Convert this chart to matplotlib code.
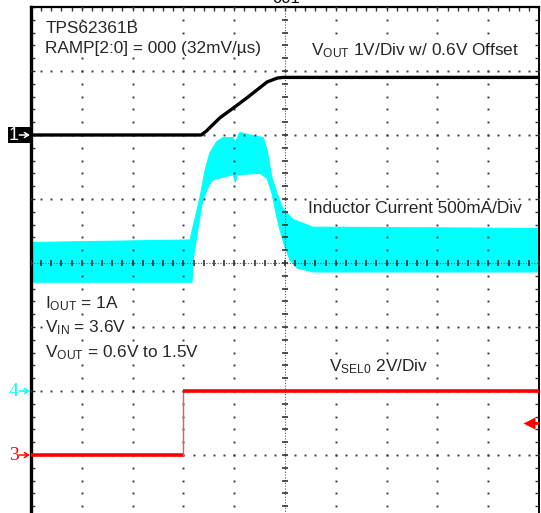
import matplotlib
matplotlib.use("Agg")
import matplotlib.pyplot as plt
from matplotlib.patches import Rectangle
import numpy as np

plt.rcParams["font.family"] = ["Liberation Sans", "DejaVu Sans"]
plt.rcParams["mathtext.fontset"] = "custom"
plt.rcParams["mathtext.rm"] = "Liberation Sans"
plt.rcParams["mathtext.it"] = "Liberation Sans"

# scope screen: 10 x 8 divisions, time axis in divisions
N_XDIV, N_YDIV = 10, 8

# channel settings: reference level (div from bottom) and scale per div
CH1_REF, CH1_SCALE, CH1_OFFSET = 6.0, 1.0, 0.6   # VOUT, V/div, 0.6 V offset
CH4_REF, CH4_SCALE = 2.0, 0.5                    # inductor current, A/div
CH3_REF, CH3_SCALE = 1.0, 2.0                    # VSEL0, V/div

# Ch1 - VOUT (V)
vout_t = [0.0, 3.35, 3.45, 3.72, 3.98, 4.25, 4.65, 4.85, 4.96, 10.0]
vout_v = [0.6, 0.6, 0.66, 0.87, 1.02, 1.18, 1.43, 1.49, 1.5, 1.5]

# Ch4 - inductor current envelope (A)
il_up_t = [0.0, 3.13, 3.33, 3.43, 3.52, 3.66, 3.78, 3.98, 4.02, 4.11, 4.31,
           4.57, 4.65, 4.74, 4.84, 4.94, 5.04, 5.16, 5.55, 10.0]
il_up = [1.16, 1.18, 1.52, 1.73, 1.86, 1.95, 1.98, 1.98, 1.94, 2.02, 2.0,
         1.98, 1.88, 1.67, 1.55, 1.44, 1.39, 1.34, 1.28, 1.27]
il_lo_t = [0.0, 3.17, 3.19, 3.27, 3.37, 3.48, 3.58, 3.78, 3.98, 4.02, 4.06,
           4.51, 4.65, 4.74, 4.84, 4.90, 5.0, 5.10, 5.24, 5.55, 10.0]
il_lo = [0.85, 0.85, 1.02, 1.23, 1.47, 1.59, 1.65, 1.67, 1.69, 1.63, 1.69,
         1.70, 1.66, 1.55, 1.36, 1.26, 1.125, 1.02, 0.96, 0.93, 0.93]

# Ch3 - VSEL0 (V)
vsel_t = [0.0, 2.99, 2.99, 10.0]
vsel_v = [0.0, 0.0, 2.0, 2.0]
trig_level = 1.0  # V

TEXT = "#262626"
CYAN = "#00ffff"
RED = "#ff0000"


def to_div(vals, ref, scale, offset=0.0):
    return ref + (np.asarray(vals) - offset) / scale


fig = plt.figure(figsize=(5.41, 5.13), dpi=100)
ax = fig.add_axes([31 / 541, 1 - 519 / 513, 508 / 541, 512 / 513])
ax.set_xlim(0, N_XDIV)
ax.set_ylim(0, N_YDIV)

# inductor current band
ax.fill(np.r_[il_up_t, il_lo_t[::-1]],
        np.r_[to_div(il_up, CH4_REF, CH4_SCALE), to_div(il_lo[::-1], CH4_REF, CH4_SCALE)],
        color=CYAN, lw=0.8, ec=CYAN, zorder=2)

# graticule
minor = np.arange(0, 5 * N_XDIV + 1) / 5
minor_y = np.arange(0, 5 * N_YDIV + 1) / 5
for i in range(1, N_XDIV):
    if i == 5:
        continue
    ax.plot(np.full_like(minor_y, i), minor_y, ls="none", marker="s", ms=1.4,
            mec="none", color="#3a3a3a", zorder=3)
for j in range(1, N_YDIV):
    if j == 4:
        continue
    ax.plot(minor, np.full_like(minor, j), ls="none", marker="s", ms=1.4,
            mec="none", color="#3a3a3a", zorder=3)
# center cross
ax.plot([5, 5], [0, N_YDIV], ls=(0, (1, 1.5)), lw=0.8, color="#555555", zorder=3)
ax.plot([0, N_XDIV], [4, 4], ls=(0, (1, 1.5)), lw=0.8, color="#555555", zorder=3)
ax.plot(np.full_like(minor_y, 5), minor_y, ls="none", marker="_", ms=5, mew=1.2,
        color="#333333", zorder=3)
ax.plot(minor, np.full_like(minor, 4), ls="none", marker="|", ms=5, mew=1.2,
        color="#333333", zorder=3)

# VOUT
ax.plot(vout_t, to_div(vout_v, CH1_REF, CH1_SCALE, CH1_OFFSET), color="black",
        lw=2.4, solid_capstyle="butt", zorder=5)

# VSEL0
vsel_div = to_div(vsel_v, CH3_REF, CH3_SCALE)
ax.plot(vsel_t[1:3], vsel_div[1:3], color="#ff5050", lw=1.0, zorder=4)
ax.plot(vsel_t[:2], vsel_div[:2], color=RED, lw=2.6, solid_capstyle="butt", zorder=5)
ax.plot(vsel_t[2:], vsel_div[2:], color=RED, lw=2.6, solid_capstyle="butt", zorder=5)

# trigger level marker
trig_y = to_div(trig_level, CH3_REF, CH3_SCALE)
ax.plot([9.8, 10], [trig_y, trig_y], color=RED, lw=2.0, zorder=5)
ax.plot([9.8], [trig_y], marker="<", ms=8, color=RED, mec="none", zorder=5)

# frame
for side in ("left", "top", "right", "bottom"):
    ax.spines[side].set_color("black")
ax.spines["left"].set_linewidth(2.4)
ax.spines["top"].set_linewidth(1.6)
ax.spines["right"].set_linewidth(1.4)
ax.set_xticks(minor)
ax.set_yticks(minor_y)
ax.tick_params(direction="in", length=3, width=1, color="#333333",
               top=True, right=True, labelbottom=False, labelleft=False)


def ref_arrow(y, col):
    ax.annotate("", xy=(-0.02, y), xytext=(-0.23, y), annotation_clip=False,
                arrowprops=dict(arrowstyle="->,head_length=0.3,head_width=0.18",
                                color=col, lw=1.1, shrinkA=0, shrinkB=0), zorder=7)


# channel markers
ax.add_patch(Rectangle((-0.46, CH1_REF - 0.12), 0.44, 0.24, fc="black", ec="none",
                       clip_on=False, zorder=6))
ax.text(-0.25, CH1_REF, "1", ha="right", va="center", color="white", fontsize=13,
        clip_on=False, zorder=7)
ref_arrow(CH1_REF, "white")
for ref, col, lab in ((CH4_REF, CYAN, "4"), (CH3_REF, RED, "3")):
    ax.text(-0.24, ref, lab, ha="right", va="center", color=col, fontsize=14,
            family=["Liberation Serif", "DejaVu Serif"], clip_on=False)
    ref_arrow(ref, col)

# annotations (white backing hides graticule dots like the scope capture)
fs = 12.4
box = dict(fc="white", ec="none", pad=0.5)


def note(x, y, s):
    ax.text(x, y, s, fontsize=fs, color=TEXT, va="baseline", bbox=box, zorder=4)


note(0.28, 7.59, "TPS62361B")
note(0.28, 7.28, "RAMP[2:0] = 000 (32mV/\u00b5s)")
note(5.51, 7.25, r"V$_{\mathrm{OUT}}$ 1V/Div w/ 0.6V Offset")
note(5.45, 4.78, "Inductor Current 500mA/Div")
note(0.28, 3.30, r"I$_{\mathrm{OUT}}$ = 1A")
note(0.28, 2.91, r"V$_{\mathrm{IN}}$ = 3.6V")
note(0.28, 2.53, r"V$_{\mathrm{OUT}}$ = 0.6V to 1.5V")
note(5.87, 2.31, r"V$_{\mathrm{SEL0}}$ 2V/Div")

# clipped caption from the page above
fig.text(286 / 541, 1 - 3 / 513, "001", ha="center", va="baseline", fontsize=12,
         color="black")

fig.savefig("out.png", dpi=100)
